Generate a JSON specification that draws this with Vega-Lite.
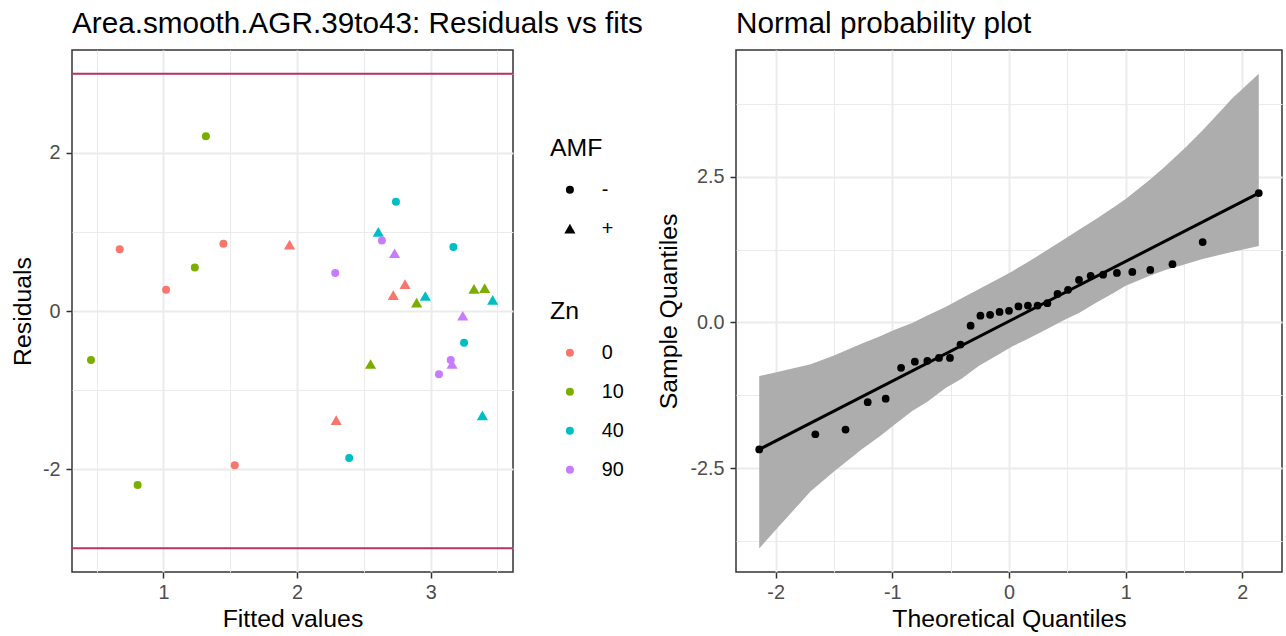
{
  "$schema": "https://vega.github.io/schema/vega-lite/v6.json",
  "background": "white",
  "padding": {"left": 9, "top": 8, "right": 0, "bottom": 0},
  "bounds": "flush",
  "spacing": 223,
  "config": {
    "font": "Liberation Sans",
    "view": {"stroke": "#333333", "strokeWidth": 1.5},
    "axis": {
      "domain": false,
      "grid": true,
      "gridColor": "#EBEBEB",
      "tickColor": "#333333",
      "tickWidth": 1.5,
      "tickSize": 6,
      "labelPadding": 6,
      "labelFont": "Liberation Sans",
      "labelFontSize": 19.8,
      "labelColor": "#4D4D4D",
      "titleFont": "Liberation Sans",
      "titleFontSize": 24.8,
      "titleFontWeight": "normal",
      "titleColor": "black",
      "titlePadding": 5
    },
    "axisX": {"labelPadding": 4},
    "title": {"font": "Liberation Sans", "fontSize": 29.7, "fontWeight": "normal", "anchor": "start", "frame": "group", "color": "black", "offset": 10},
    "legend": {
      "padding": 0,
      "titleFont": "Liberation Sans",
      "titleFontSize": 24.8,
      "titleFontWeight": "normal",
      "titleColor": "black",
      "titlePadding": 19,
      "labelFont": "Liberation Sans",
      "labelFontSize": 19.8,
      "labelColor": "black",
      "rowPadding": 18,
      "symbolOffset": 10,
      "labelOffset": 22,
      "symbolStrokeWidth": 0
    }
  },
  "hconcat": [
    {
      "width": 441,
      "height": 522,
      "title": {"text": "Area.smooth.AGR.39to43: Residuals vs fits"},
      "layer": [
        {
          "data": {"values": [{"h": 3}, {"h": -3}]},
          "mark": {"type": "rule", "color": "#B5356A", "strokeWidth": 2},
          "encoding": {
            "y": {"field": "h", "type": "quantitative", "scale": {"domain": [-3.3, 3.3], "nice": false, "zero": false}, "title": "Residuals"}
          }
        },
        {
          "data": {"values": [
            {"fitted": 1.318, "resid": 2.21, "Zn": "10", "AMF": "-"},
            {"fitted": 0.673, "resid": 0.78, "Zn": "0", "AMF": "-"},
            {"fitted": 1.449, "resid": 0.85, "Zn": "0", "AMF": "-"},
            {"fitted": 1.944, "resid": 0.84, "Zn": "0", "AMF": "+"},
            {"fitted": 1.235, "resid": 0.55, "Zn": "10", "AMF": "-"},
            {"fitted": 1.02, "resid": 0.27, "Zn": "0", "AMF": "-"},
            {"fitted": 2.286, "resid": 0.48, "Zn": "90", "AMF": "-"},
            {"fitted": 2.608, "resid": 1.0, "Zn": "40", "AMF": "+"},
            {"fitted": 2.635, "resid": 0.89, "Zn": "90", "AMF": "-"},
            {"fitted": 2.74, "resid": 1.38, "Zn": "40", "AMF": "-"},
            {"fitted": 2.73, "resid": 0.73, "Zn": "90", "AMF": "+"},
            {"fitted": 2.808, "resid": 0.34, "Zn": "0", "AMF": "+"},
            {"fitted": 2.72, "resid": 0.2, "Zn": "0", "AMF": "+"},
            {"fitted": 2.895, "resid": 0.105, "Zn": "10", "AMF": "+"},
            {"fitted": 2.96, "resid": 0.19, "Zn": "40", "AMF": "+"},
            {"fitted": 3.17, "resid": 0.81, "Zn": "40", "AMF": "-"},
            {"fitted": 3.324, "resid": 0.28, "Zn": "10", "AMF": "+"},
            {"fitted": 3.404, "resid": 0.29, "Zn": "10", "AMF": "+"},
            {"fitted": 3.464, "resid": 0.14, "Zn": "40", "AMF": "+"},
            {"fitted": 3.24, "resid": -0.06, "Zn": "90", "AMF": "+"},
            {"fitted": 0.458, "resid": -0.62, "Zn": "10", "AMF": "-"},
            {"fitted": 2.55, "resid": -0.67, "Zn": "10", "AMF": "+"},
            {"fitted": 3.25, "resid": -0.4, "Zn": "40", "AMF": "-"},
            {"fitted": 3.15, "resid": -0.62, "Zn": "90", "AMF": "-"},
            {"fitted": 3.16, "resid": -0.67, "Zn": "90", "AMF": "+"},
            {"fitted": 3.062, "resid": -0.8, "Zn": "90", "AMF": "-"},
            {"fitted": 3.387, "resid": -1.32, "Zn": "40", "AMF": "+"},
            {"fitted": 2.293, "resid": -1.38, "Zn": "0", "AMF": "+"},
            {"fitted": 2.39, "resid": -1.86, "Zn": "40", "AMF": "-"},
            {"fitted": 1.534, "resid": -1.95, "Zn": "0", "AMF": "-"},
            {"fitted": 0.807, "resid": -2.2, "Zn": "10", "AMF": "-"}
          ]},
          "mark": {"type": "point", "filled": true, "opacity": 1, "strokeWidth": 0},
          "encoding": {
            "x": {
              "field": "fitted", "type": "quantitative",
              "scale": {"domain": [0.316, 3.616], "nice": false, "zero": false},
              "axis": {
                "title": "Fitted values",
                "values": [0.5, 1, 1.5, 2, 2.5, 3, 3.5],
                "labelExpr": "datum.value % 1 === 0 ? '' + datum.value : ''",
                "tickOpacity": {"condition": {"test": "datum.value % 1 !== 0", "value": 0}, "value": 1},
                "gridWidth": {"condition": {"test": "datum.value % 1 === 0", "value": 2}, "value": 1}
              }
            },
            "y": {
              "field": "resid", "type": "quantitative",
              "scale": {"domain": [-3.3, 3.3], "nice": false, "zero": false},
              "axis": {
                "title": "Residuals",
                "titlePadding": 7,
                "values": [-3, -2, -1, 0, 1, 2, 3],
                "labelExpr": "datum.value % 2 === 0 ? '' + datum.value : ''",
                "tickOpacity": {"condition": {"test": "datum.value % 2 !== 0", "value": 0}, "value": 1},
                "gridWidth": {"condition": {"test": "datum.value % 2 === 0", "value": 2}, "value": 1}
              }
            },
            "color": {
              "field": "Zn", "type": "nominal",
              "scale": {"domain": ["0", "10", "40", "90"], "range": ["#F8766D", "#7CAE00", "#00BFC4", "#C77CFF"]},
              "legend": {"title": "Zn", "orient": "none", "legendX": 478, "legendY": 249, "symbolType": "circle", "symbolSize": 64}
            },
            "shape": {
              "field": "AMF", "type": "nominal",
              "scale": {"domain": ["-", "+"], "range": ["circle", "triangle-up"]},
              "legend": {"title": "AMF", "orient": "none", "legendX": 478, "legendY": 86, "symbolFillColor": "black", "symbolStrokeColor": "black"}
            },
            "size": {
              "field": "AMF", "type": "nominal",
              "scale": {"domain": ["-", "+"], "range": [64, 125]},
              "legend": {"title": "AMF", "orient": "none", "legendX": 478, "legendY": 86, "symbolFillColor": "black", "symbolStrokeColor": "black"}
            }
          }
        }
      ]
    },
    {
      "width": 546,
      "height": 522,
      "title": {"text": "Normal probability plot"},
      "layer": [
        {
          "data": {"values": [
            {"q": -2.141, "lo": -3.88, "hi": -0.92},
            {"q": -1.985, "lo": -3.53, "hi": -0.85},
            {"q": -1.7, "lo": -2.9, "hi": -0.72},
            {"q": -1.5, "lo": -2.56, "hi": -0.57},
            {"q": -1.27, "lo": -2.19, "hi": -0.37},
            {"q": -1.11, "lo": -1.96, "hi": -0.24},
            {"q": -0.985, "lo": -1.76, "hi": -0.13},
            {"q": -0.83, "lo": -1.52, "hi": -0.01},
            {"q": -0.7, "lo": -1.36, "hi": 0.12},
            {"q": -0.54, "lo": -1.12, "hi": 0.27},
            {"q": -0.41, "lo": -0.97, "hi": 0.41},
            {"q": -0.26, "lo": -0.75, "hi": 0.57},
            {"q": -0.09, "lo": -0.55, "hi": 0.75},
            {"q": 0.03, "lo": -0.41, "hi": 0.88},
            {"q": 0.155, "lo": -0.29, "hi": 1.03},
            {"q": 0.31, "lo": -0.13, "hi": 1.22},
            {"q": 0.49, "lo": 0.06, "hi": 1.45},
            {"q": 0.6, "lo": 0.16, "hi": 1.59},
            {"q": 0.75, "lo": 0.34, "hi": 1.78},
            {"q": 0.907, "lo": 0.52, "hi": 1.99},
            {"q": 1.0, "lo": 0.63, "hi": 2.12},
            {"q": 1.207, "lo": 0.8, "hi": 2.45},
            {"q": 1.34, "lo": 0.9, "hi": 2.68},
            {"q": 1.51, "lo": 1.0, "hi": 3.0},
            {"q": 1.66, "lo": 1.09, "hi": 3.3},
            {"q": 1.81, "lo": 1.16, "hi": 3.62},
            {"q": 1.91, "lo": 1.21, "hi": 3.84},
            {"q": 2.141, "lo": 1.31, "hi": 4.27}
          ]},
          "mark": {"type": "area", "color": "#ADADAD", "opacity": 1},
          "encoding": {
            "x": {
              "field": "q", "type": "quantitative",
              "scale": {"domain": [-2.34, 2.34], "nice": false, "zero": false},
              "axis": {
                "title": "Theoretical Quantiles",
                "values": [-2, -1.5, -1, -0.5, 0, 0.5, 1, 1.5, 2],
                "labelExpr": "datum.value % 1 === 0 ? '' + datum.value : ''",
                "tickOpacity": {"condition": {"test": "datum.value % 1 !== 0", "value": 0}, "value": 1},
                "gridWidth": {"condition": {"test": "datum.value % 1 === 0", "value": 2}, "value": 1}
              }
            },
            "y": {
              "field": "lo", "type": "quantitative",
              "scale": {"domain": [-4.285, 4.677], "nice": false, "zero": false},
              "axis": {
                "title": "Sample Quantiles",
                "titlePadding": 8,
                "values": [-3.75, -2.5, -1.25, 0, 1.25, 2.5, 3.75],
                "labelExpr": "datum.value % 2.5 === 0 ? (datum.value === 0 ? '0.0' : '' + datum.value) : ''",
                "tickOpacity": {"condition": {"test": "datum.value % 2.5 !== 0", "value": 0}, "value": 1},
                "gridWidth": {"condition": {"test": "datum.value % 2.5 === 0", "value": 2}, "value": 1}
              }
            },
            "y2": {"field": "hi"}
          }
        },
        {
          "data": {"values": [{"q": -2.141, "s": -2.18}, {"q": 2.141, "s": 2.22}]},
          "mark": {"type": "line", "color": "black", "strokeWidth": 3},
          "encoding": {
            "x": {"field": "q", "type": "quantitative", "title": "Theoretical Quantiles"},
            "y": {"field": "s", "type": "quantitative", "title": "Sample Quantiles"}
          }
        },
        {
          "data": {"values": [
            {"q": -2.141, "s": -2.18}, {"q": -1.66, "s": -1.92}, {"q": -1.401, "s": -1.84},
            {"q": -1.211, "s": -1.37}, {"q": -1.057, "s": -1.31}, {"q": -0.925, "s": -0.78},
            {"q": -0.807, "s": -0.675}, {"q": -0.7, "s": -0.66}, {"q": -0.6, "s": -0.61},
            {"q": -0.506, "s": -0.61}, {"q": -0.416, "s": -0.38}, {"q": -0.329, "s": -0.057},
            {"q": -0.245, "s": 0.115}, {"q": -0.162, "s": 0.13}, {"q": -0.081, "s": 0.18},
            {"q": 0.0, "s": 0.2}, {"q": 0.081, "s": 0.275}, {"q": 0.162, "s": 0.29},
            {"q": 0.245, "s": 0.29}, {"q": 0.329, "s": 0.33}, {"q": 0.416, "s": 0.49},
            {"q": 0.506, "s": 0.56}, {"q": 0.6, "s": 0.73}, {"q": 0.7, "s": 0.8},
            {"q": 0.807, "s": 0.82}, {"q": 0.925, "s": 0.85}, {"q": 1.057, "s": 0.866},
            {"q": 1.211, "s": 0.9}, {"q": 1.401, "s": 1.0}, {"q": 1.66, "s": 1.38},
            {"q": 2.141, "s": 2.22}
          ]},
          "mark": {"type": "circle", "color": "black", "size": 60, "opacity": 1},
          "encoding": {
            "x": {"field": "q", "type": "quantitative", "title": "Theoretical Quantiles"},
            "y": {"field": "s", "type": "quantitative", "title": "Sample Quantiles"}
          }
        }
      ]
    }
  ]
}
